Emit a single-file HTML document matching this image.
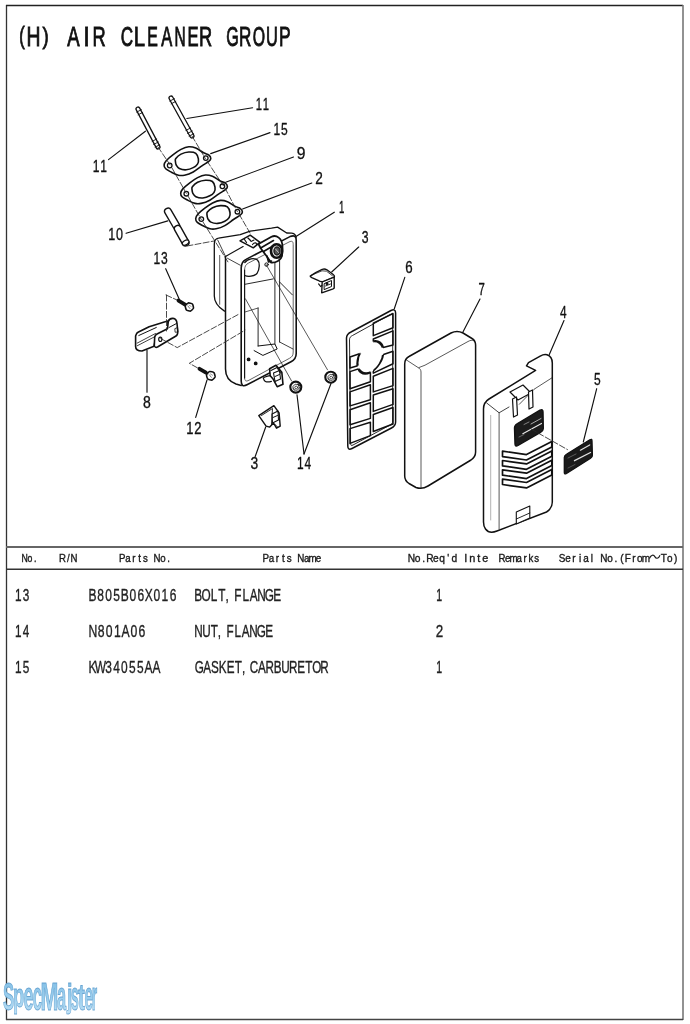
<!DOCTYPE html>
<html><head><meta charset="utf-8">
<style>
html,body{margin:0;padding:0;background:#fff;}
body{width:690px;height:1024px;overflow:hidden;position:relative;}
svg{position:absolute;left:0;top:0;will-change:transform;}
text{font-family:"Liberation Sans",sans-serif;}
</style></head>
<body>
<svg width="690" height="1024" viewBox="0 0 690 1024">
<line x1="6.5" y1="5.0" x2="6.5" y2="1020.0" stroke="#333" stroke-width="1.3" />
<line x1="6.0" y1="5.5" x2="683.0" y2="5.5" stroke="#222" stroke-width="1.3" />
<line x1="683.0" y1="5.0" x2="683.0" y2="1020.0" stroke="#777" stroke-width="1.6" />
<line x1="6.0" y1="1019.5" x2="683.0" y2="1019.5" stroke="#444" stroke-width="1.4" />
<line x1="6.0" y1="547.0" x2="683.0" y2="547.0" stroke="#666" stroke-width="1.8" />
<line x1="6.0" y1="569.2" x2="683.0" y2="569.2" stroke="#333" stroke-width="1.4" />
<text transform="translate(19.19,43.58) scale(0.16415,0.24011)" font-size="100" font-weight="normal" fill="#111" stroke="#111" stroke-width="3.711" >(</text>
<text transform="translate(26.62,46.42) scale(0.19375,0.27319)" font-size="100" font-weight="normal" fill="#111" stroke="#111" stroke-width="3.212" >H</text>
<text transform="translate(42.58,43.58) scale(0.18679,0.24011)" font-size="100" font-weight="normal" fill="#111" stroke="#111" stroke-width="3.514" >)</text>
<text transform="translate(67.28,46.42) scale(0.18571,0.27319)" font-size="100" font-weight="normal" fill="#111" stroke="#111" stroke-width="3.269" >A</text>
<text transform="translate(83.24,46.42) scale(0.23684,0.27319)" font-size="100" font-weight="normal" fill="#111" stroke="#111" stroke-width="2.941" >I</text>
<text transform="translate(92.62,46.42) scale(0.18235,0.27319)" font-size="100" font-weight="normal" fill="#111" stroke="#111" stroke-width="3.293" >R</text>
<text transform="translate(120.82,46.42) scale(0.17087,0.27319)" font-size="100" font-weight="normal" fill="#111" stroke="#111" stroke-width="3.378" >C</text>
<text transform="translate(133.75,46.42) scale(0.20337,0.27319)" font-size="100" font-weight="normal" fill="#111" stroke="#111" stroke-width="3.148" >L</text>
<text transform="translate(147.21,46.42) scale(0.15872,0.27319)" font-size="100" font-weight="normal" fill="#111" stroke="#111" stroke-width="3.473" >E</text>
<text transform="translate(161.18,46.42) scale(0.16466,0.27319)" font-size="100" font-weight="normal" fill="#111" stroke="#111" stroke-width="3.426" >A</text>
<text transform="translate(174.54,46.42) scale(0.15446,0.27319)" font-size="100" font-weight="normal" fill="#111" stroke="#111" stroke-width="3.508" >N</text>
<text transform="translate(187.45,46.42) scale(0.16606,0.27319)" font-size="100" font-weight="normal" fill="#111" stroke="#111" stroke-width="3.415" >E</text>
<text transform="translate(199.12,46.42) scale(0.18235,0.27319)" font-size="100" font-weight="normal" fill="#111" stroke="#111" stroke-width="3.293" >R</text>
<text transform="translate(226.17,46.42) scale(0.16107,0.27319)" font-size="100" font-weight="normal" fill="#111" stroke="#111" stroke-width="3.454" >G</text>
<text transform="translate(239.11,46.42) scale(0.17059,0.27319)" font-size="100" font-weight="normal" fill="#111" stroke="#111" stroke-width="3.380" >R</text>
<text transform="translate(252.76,46.42) scale(0.15839,0.27319)" font-size="100" font-weight="normal" fill="#111" stroke="#111" stroke-width="3.476" >O</text>
<text transform="translate(266.04,46.42) scale(0.16404,0.27319)" font-size="100" font-weight="normal" fill="#111" stroke="#111" stroke-width="3.431" >U</text>
<text transform="translate(278.98,46.42) scale(0.17477,0.27319)" font-size="100" font-weight="normal" fill="#111" stroke="#111" stroke-width="3.349" >P</text>
<text transform="translate(22.11,561.53) scale(0.08742,0.11232)" font-size="100" x="-6.1 62.2 136.1" y="0" font-weight="normal" fill="#1a1a1a" stroke="#1a1a1a" stroke-width="3.505" >No.</text>
<text transform="translate(59.59,561.53) scale(0.09631,0.11232)" font-size="100" x="-6.1 76.1 113.9" y="0" font-weight="normal" fill="#1a1a1a" stroke="#1a1a1a" stroke-width="3.355" >R/N</text>
<text transform="translate(119.33,561.53) scale(0.09677,0.11232)" font-size="100" x="-3.4 62.2 133.3 196.1 245.0 353.9 422.2 496.1" y="0" font-weight="normal" fill="#1a1a1a" stroke="#1a1a1a" stroke-width="3.348" >PartsNo.</text>
<text transform="translate(262.72,561.53) scale(0.09795,0.11232)" font-size="100" x="-3.4 62.2 133.3 196.1 245.0 353.9 422.2 468.3 542.2" y="0" font-weight="normal" fill="#1a1a1a" stroke="#1a1a1a" stroke-width="3.329" >PartsName</text>
<text transform="translate(408.38,561.53) scale(0.10217,0.11232)" font-size="100" x="-6.1 62.2 136.1 173.9 242.2 302.2 380.5 422.2" y="0" font-weight="normal" fill="#1a1a1a" stroke="#1a1a1a" stroke-width="3.264" >No.Req'd</text>
<text transform="translate(462.44,561.53) scale(0.10885,0.11232)" font-size="100" x="16.1 62.2 136.1 182.2" y="0" font-weight="normal" fill="#1a1a1a" stroke="#1a1a1a" stroke-width="3.165" >Inte</text>
<text transform="translate(498.99,561.53) scale(0.09680,0.11232)" font-size="100" x="-6.1 62.2 108.3 182.2 253.3 305.0 365.0" y="0" font-weight="normal" fill="#1a1a1a" stroke="#1a1a1a" stroke-width="3.347" >Remarks</text>
<text transform="translate(559.06,561.53) scale(0.09977,0.11232)" font-size="100" x="-3.4 62.2 133.3 198.9 242.2 318.9 413.9 482.2 556.1 613.3 659.5 733.3 782.2 828.3 1019.5 1082.2 1153.3" y="0" font-weight="normal" fill="#1a1a1a" stroke="#1a1a1a" stroke-width="3.300" >SerialNo.(FromTo)</text>
<path d="M649.4,558.4 C651.2,554.6 653.6,554.4 654.8,556.6 C656,558.9 658.4,559.2 660,555.2" stroke="#1a1a1a" stroke-width="1.15" fill="none" />
<text transform="translate(14.29,601.45) scale(0.11802,0.16667)" font-size="100" x="5.7 72.7" y="0" font-weight="normal" fill="#222" stroke="#222" stroke-width="2.108" >13</text>
<text transform="translate(88.47,601.45) scale(0.12016,0.16667)" font-size="100" x="0.1 72.7 139.7 206.7 268.1 340.7 407.7 469.1 541.7 608.7 675.7" y="0" font-weight="normal" fill="#222" stroke="#222" stroke-width="2.092" >B805B06X016</text>
<text transform="translate(194.29,601.45) scale(0.11801,0.16667)" font-size="100" x="0.1 61.6 139.7 204.0 264.4 338.0 407.7 469.1 533.4 597.6 670.1" y="0" font-weight="normal" fill="#222" stroke="#222" stroke-width="2.108" >BOLT,FLANGE</text>
<text transform="translate(435.56,601.45) scale(0.10575,0.16667)" font-size="100" x="5.7" y="0" font-weight="normal" fill="#222" stroke="#222" stroke-width="2.203" >1</text>
<text transform="translate(14.31,636.85) scale(0.11696,0.16667)" font-size="100" x="5.7 72.7" y="0" font-weight="normal" fill="#222" stroke="#222" stroke-width="2.115" >14</text>
<text transform="translate(88.79,636.85) scale(0.12208,0.16667)" font-size="100" x="-2.6 72.7 139.7 206.7 268.1 340.7 407.7" y="0" font-weight="normal" fill="#222" stroke="#222" stroke-width="2.078" >N801A06</text>
<text transform="translate(194.62,636.85) scale(0.11723,0.16667)" font-size="100" x="-2.6 64.4 137.0 197.4 271.0 340.7 402.1 466.4 530.6 603.1" y="0" font-weight="normal" fill="#222" stroke="#222" stroke-width="2.113" >NUT,FLANGE</text>
<text transform="translate(435.02,636.85) scale(0.13407,0.16667)" font-size="100" x="5.7" y="0" font-weight="normal" fill="#222" stroke="#222" stroke-width="1.995" >2</text>
<text transform="translate(14.29,672.85) scale(0.11802,0.16667)" font-size="100" x="5.7 72.7" y="0" font-weight="normal" fill="#222" stroke="#222" stroke-width="2.108" >15</text>
<text transform="translate(88.48,672.85) scale(0.11926,0.16667)" font-size="100" x="0.1 53.3 139.7 206.7 273.7 340.7 407.7 469.1 536.1" y="0" font-weight="normal" fill="#222" stroke="#222" stroke-width="2.098" >KW34055AA</text>
<text transform="translate(195.30,672.85) scale(0.11695,0.16667)" font-size="100" x="-5.4 67.1 134.1 201.1 268.1 338.0 398.4 466.4 536.1 600.4 670.1 734.4 801.4 871.1 941.0 999.6 1069.4" y="0" font-weight="normal" fill="#222" stroke="#222" stroke-width="2.116" >GASKET,CARBURETOR</text>
<text transform="translate(435.56,672.85) scale(0.10575,0.16667)" font-size="100" x="5.7" y="0" font-weight="normal" fill="#222" stroke="#222" stroke-width="2.203" >1</text>
<g fill="none" stroke="#111" stroke-width="1.2" stroke-linecap="round" stroke-linejoin="round">
<text transform="translate(255.44,110.25) scale(0.11280,0.16377)" font-size="100" x="3.2 65.2" y="0" font-weight="normal" fill="#111" stroke="#111" stroke-width="2.169" >11</text>
<text transform="translate(92.36,171.85) scale(0.12038,0.16377)" font-size="100" x="3.2 65.2" y="0" font-weight="normal" fill="#111" stroke="#111" stroke-width="2.112" >11</text>
<text transform="translate(273.16,134.65) scale(0.12075,0.16377)" font-size="100" x="3.2 65.2" y="0" font-weight="normal" fill="#111" stroke="#111" stroke-width="2.109" >15</text>
<text transform="translate(296.34,158.65) scale(0.15699,0.16377)" font-size="100" x="3.2" y="0" font-weight="normal" fill="#111" stroke="#111" stroke-width="1.871" >9</text>
<text transform="translate(314.73,183.65) scale(0.13626,0.16377)" font-size="100" x="3.2" y="0" font-weight="normal" fill="#111" stroke="#111" stroke-width="2.000" >2</text>
<text transform="translate(338.72,212.85) scale(0.09655,0.16377)" font-size="100" x="3.2" y="0" font-weight="normal" fill="#111" stroke="#111" stroke-width="2.305" >1</text>
<text transform="translate(107.90,240.25) scale(0.12582,0.16377)" font-size="100" x="3.2 65.2" y="0" font-weight="normal" fill="#111" stroke="#111" stroke-width="2.072" >10</text>
<text transform="translate(153.16,264.15) scale(0.12075,0.16377)" font-size="100" x="3.2 65.2" y="0" font-weight="normal" fill="#111" stroke="#111" stroke-width="2.109" >13</text>
<text transform="translate(361.47,243.35) scale(0.12211,0.16377)" font-size="100" x="3.2" y="0" font-weight="normal" fill="#111" stroke="#111" stroke-width="2.099" >3</text>
<text transform="translate(404.76,272.85) scale(0.13333,0.16377)" font-size="100" x="3.2" y="0" font-weight="normal" fill="#111" stroke="#111" stroke-width="2.020" >6</text>
<text transform="translate(478.11,294.55) scale(0.11429,0.16377)" font-size="100" x="3.2" y="0" font-weight="normal" fill="#111" stroke="#111" stroke-width="2.158" >7</text>
<text transform="translate(559.73,317.85) scale(0.11881,0.16377)" font-size="100" x="3.2" y="0" font-weight="normal" fill="#111" stroke="#111" stroke-width="2.123" >4</text>
<text transform="translate(593.69,385.05) scale(0.12000,0.16377)" font-size="100" x="3.2" y="0" font-weight="normal" fill="#111" stroke="#111" stroke-width="2.114" >5</text>
<text transform="translate(142.57,407.65) scale(0.14043,0.16377)" font-size="100" x="3.2" y="0" font-weight="normal" fill="#111" stroke="#111" stroke-width="1.972" >8</text>
<text transform="translate(185.77,433.85) scale(0.12952,0.16377)" font-size="100" x="3.2 65.2" y="0" font-weight="normal" fill="#111" stroke="#111" stroke-width="2.046" >12</text>
<text transform="translate(250.05,468.55) scale(0.13895,0.16377)" font-size="100" x="3.2" y="0" font-weight="normal" fill="#111" stroke="#111" stroke-width="1.982" >3</text>
<text transform="translate(296.67,468.55) scale(0.11963,0.16377)" font-size="100" x="3.2 65.2" y="0" font-weight="normal" fill="#111" stroke="#111" stroke-width="2.117" >14</text>
<line x1="186.8" y1="118.5" x2="252.6" y2="107.8" stroke="#111" stroke-width="1.15" />
<line x1="108.5" y1="159.6" x2="145.4" y2="131.2" stroke="#111" stroke-width="1.15" />
<line x1="210.7" y1="153.6" x2="270.0" y2="132.6" stroke="#111" stroke-width="1.15" />
<line x1="225.7" y1="182.3" x2="293.5" y2="157.0" stroke="#111" stroke-width="1.15" />
<line x1="242.6" y1="209.0" x2="311.8" y2="183.0" stroke="#111" stroke-width="1.15" />
<line x1="296.0" y1="236.5" x2="334.3" y2="212.2" stroke="#111" stroke-width="1.15" />
<line x1="126.1" y1="233.3" x2="167.8" y2="220.9" stroke="#111" stroke-width="1.15" />
<line x1="165.7" y1="268.7" x2="179.6" y2="300.0" stroke="#111" stroke-width="1.15" />
<line x1="331.7" y1="272.0" x2="358.7" y2="247.0" stroke="#111" stroke-width="1.15" />
<line x1="404.8" y1="277.4" x2="394.3" y2="308.7" stroke="#111" stroke-width="1.15" />
<line x1="462.7" y1="332.4" x2="480.0" y2="299.0" stroke="#111" stroke-width="1.15" />
<line x1="549.3" y1="354.6" x2="564.0" y2="320.5" stroke="#111" stroke-width="1.15" />
<line x1="583.3" y1="442.0" x2="596.7" y2="388.7" stroke="#111" stroke-width="1.15" />
<line x1="147.0" y1="350.4" x2="147.0" y2="392.2" stroke="#111" stroke-width="1.15" />
<line x1="207.0" y1="380.0" x2="195.7" y2="417.4" stroke="#111" stroke-width="1.15" />
<line x1="265.7" y1="427.0" x2="255.2" y2="456.5" stroke="#111" stroke-width="1.15" />
<line x1="297.0" y1="394.8" x2="304.0" y2="454.0" stroke="#111" stroke-width="1.15" />
<line x1="331.0" y1="383.5" x2="304.0" y2="454.0" stroke="#111" stroke-width="1.15" />
<line x1="138.0" y1="109.0" x2="158.0" y2="147.0" stroke="#111" stroke-width="5.2" stroke-linecap="round"/><line x1="138.0" y1="109.0" x2="158.0" y2="147.0" stroke="#fff" stroke-width="2.6" stroke-linecap="round"/>
<line x1="171.0" y1="98.0" x2="192.0" y2="136.0" stroke="#111" stroke-width="5.2" stroke-linecap="round"/><line x1="171.0" y1="98.0" x2="192.0" y2="136.0" stroke="#fff" stroke-width="2.6" stroke-linecap="round"/>
<line x1="136.7" y1="112.1" x2="141.3" y2="109.7" stroke="#111" stroke-width="0.9" />
<line x1="138.1" y1="114.8" x2="142.7" y2="112.4" stroke="#111" stroke-width="0.9" />
<line x1="152.1" y1="141.4" x2="156.7" y2="139.0" stroke="#111" stroke-width="0.9" />
<line x1="153.7" y1="144.4" x2="158.3" y2="142.0" stroke="#111" stroke-width="0.9" />
<line x1="155.1" y1="147.1" x2="159.7" y2="144.7" stroke="#111" stroke-width="0.9" />
<line x1="169.8" y1="101.1" x2="174.4" y2="98.7" stroke="#111" stroke-width="0.9" />
<line x1="171.2" y1="103.8" x2="175.8" y2="101.4" stroke="#111" stroke-width="0.9" />
<line x1="185.9" y1="130.4" x2="190.5" y2="128.0" stroke="#111" stroke-width="0.9" />
<line x1="187.6" y1="133.4" x2="192.2" y2="131.0" stroke="#111" stroke-width="0.9" />
<line x1="189.1" y1="136.1" x2="193.7" y2="133.7" stroke="#111" stroke-width="0.9" />
<g transform="translate(-16.6,-28.2)">
<path d="M180.7,193.2 C180.8,191.8 181.3,190.6 182.8,188.9 C184.3,187.2 187.3,184.7 189.8,182.8 C192.3,180.9 195.0,178.9 197.6,177.6 C200.2,176.3 202.9,175.2 205.4,175.0 C207.9,174.8 209.9,175.3 212.4,176.3 C214.9,177.3 218.0,179.8 220.2,181.0 C222.4,182.2 224.2,182.2 225.4,183.2 C226.6,184.1 227.4,185.6 227.4,186.7 C227.4,187.8 226.9,188.4 225.4,189.6 C223.9,190.8 221.1,192.3 218.5,194.1 C215.9,195.9 212.7,198.6 209.8,200.2 C206.9,201.8 203.6,202.9 201.1,203.4 C198.6,203.9 197.2,203.9 195.0,203.4 C192.8,202.9 190.1,201.5 188.0,200.4 C185.9,199.3 183.5,198.2 182.3,197.0 C181.1,195.8 180.6,194.5 180.7,193.2Z" stroke="#111" stroke-width="1.6" fill="#fff" />
<path d="M192.4,186.7 C193.3,185.5 195.4,183.4 197.6,182.3 C199.8,181.2 202.9,180.3 205.4,180.2 C207.9,180.1 210.8,180.3 212.4,181.5 C214.0,182.7 214.7,185.3 215.0,187.1 C215.3,188.9 215.0,190.9 214.1,192.3 C213.2,193.8 211.7,194.9 209.8,195.8 C207.9,196.8 205.1,197.8 202.8,198.0 C200.5,198.2 197.6,197.5 195.9,196.7 C194.2,195.9 193.5,194.4 192.8,193.2 C192.2,192.0 192.1,190.6 192.0,189.5 C191.9,188.4 191.5,187.9 192.4,186.7Z" stroke="#111" stroke-width="1.6" fill="none" />
<circle cx="186.3" cy="193.7" r="2.3" stroke="#111" stroke-width="1.3" fill="none"/>
<circle cx="222.4" cy="186.3" r="2.3" stroke="#111" stroke-width="1.3" fill="none"/>
</g>
<g transform="translate(0,0)">
<path d="M180.7,193.2 C180.8,191.8 181.3,190.6 182.8,188.9 C184.3,187.2 187.3,184.7 189.8,182.8 C192.3,180.9 195.0,178.9 197.6,177.6 C200.2,176.3 202.9,175.2 205.4,175.0 C207.9,174.8 209.9,175.3 212.4,176.3 C214.9,177.3 218.0,179.8 220.2,181.0 C222.4,182.2 224.2,182.2 225.4,183.2 C226.6,184.1 227.4,185.6 227.4,186.7 C227.4,187.8 226.9,188.4 225.4,189.6 C223.9,190.8 221.1,192.3 218.5,194.1 C215.9,195.9 212.7,198.6 209.8,200.2 C206.9,201.8 203.6,202.9 201.1,203.4 C198.6,203.9 197.2,203.9 195.0,203.4 C192.8,202.9 190.1,201.5 188.0,200.4 C185.9,199.3 183.5,198.2 182.3,197.0 C181.1,195.8 180.6,194.5 180.7,193.2Z" stroke="#111" stroke-width="1.6" fill="#fff" />
<path d="M192.4,186.7 C193.3,185.5 195.4,183.4 197.6,182.3 C199.8,181.2 202.9,180.3 205.4,180.2 C207.9,180.1 210.8,180.3 212.4,181.5 C214.0,182.7 214.7,185.3 215.0,187.1 C215.3,188.9 215.0,190.9 214.1,192.3 C213.2,193.8 211.7,194.9 209.8,195.8 C207.9,196.8 205.1,197.8 202.8,198.0 C200.5,198.2 197.6,197.5 195.9,196.7 C194.2,195.9 193.5,194.4 192.8,193.2 C192.2,192.0 192.1,190.6 192.0,189.5 C191.9,188.4 191.5,187.9 192.4,186.7Z" stroke="#111" stroke-width="1.6" fill="none" />
<circle cx="186.3" cy="193.7" r="2.3" stroke="#111" stroke-width="1.3" fill="none"/>
<circle cx="222.4" cy="186.3" r="2.3" stroke="#111" stroke-width="1.3" fill="none"/>
</g>
<g transform="translate(15,25.4)">
<path d="M180.7,193.2 C180.8,191.8 181.3,190.6 182.8,188.9 C184.3,187.2 187.3,184.7 189.8,182.8 C192.3,180.9 195.0,178.9 197.6,177.6 C200.2,176.3 202.9,175.2 205.4,175.0 C207.9,174.8 209.9,175.3 212.4,176.3 C214.9,177.3 218.0,179.8 220.2,181.0 C222.4,182.2 224.2,182.2 225.4,183.2 C226.6,184.1 227.4,185.6 227.4,186.7 C227.4,187.8 226.9,188.4 225.4,189.6 C223.9,190.8 221.1,192.3 218.5,194.1 C215.9,195.9 212.7,198.6 209.8,200.2 C206.9,201.8 203.6,202.9 201.1,203.4 C198.6,203.9 197.2,203.9 195.0,203.4 C192.8,202.9 190.1,201.5 188.0,200.4 C185.9,199.3 183.5,198.2 182.3,197.0 C181.1,195.8 180.6,194.5 180.7,193.2Z" stroke="#111" stroke-width="1.6" fill="#fff" />
<path d="M192.4,186.7 C193.3,185.5 195.4,183.4 197.6,182.3 C199.8,181.2 202.9,180.3 205.4,180.2 C207.9,180.1 210.8,180.3 212.4,181.5 C214.0,182.7 214.7,185.3 215.0,187.1 C215.3,188.9 215.0,190.9 214.1,192.3 C213.2,193.8 211.7,194.9 209.8,195.8 C207.9,196.8 205.1,197.8 202.8,198.0 C200.5,198.2 197.6,197.5 195.9,196.7 C194.2,195.9 193.5,194.4 192.8,193.2 C192.2,192.0 192.1,190.6 192.0,189.5 C191.9,188.4 191.5,187.9 192.4,186.7Z" stroke="#111" stroke-width="1.6" fill="none" />
<circle cx="186.3" cy="193.7" r="2.3" stroke="#111" stroke-width="1.3" fill="none"/>
<circle cx="222.4" cy="186.3" r="2.3" stroke="#111" stroke-width="1.3" fill="none"/>
</g>
<polyline points="158.0,147.0 170.1,164.9" stroke="#2a2a2a" stroke-width="0.85" fill="none" stroke-dasharray="6,2.2"/>
<polyline points="172.0,168.0 186.3,193.3" stroke="#2a2a2a" stroke-width="0.85" fill="none" stroke-dasharray="6,2.2"/>
<polyline points="188.0,196.0 201.3,219.6" stroke="#2a2a2a" stroke-width="0.85" fill="none" stroke-dasharray="6,2.2"/>
<polyline points="203.0,222.0 228.0,262.0" stroke="#2a2a2a" stroke-width="0.85" fill="none" stroke-dasharray="6,2.2"/>
<polyline points="192.0,136.0 205.4,158.6" stroke="#2a2a2a" stroke-width="0.85" fill="none" stroke-dasharray="6,2.2"/>
<polyline points="207.0,161.0 223.4,185.8" stroke="#2a2a2a" stroke-width="0.85" fill="none" stroke-dasharray="6,2.2"/>
<polyline points="225.0,188.0 237.4,211.7" stroke="#2a2a2a" stroke-width="0.85" fill="none" stroke-dasharray="6,2.2"/>
<polyline points="239.0,214.0 250.0,233.0" stroke="#2a2a2a" stroke-width="0.85" fill="none" stroke-dasharray="6,2.2"/>
<line x1="168.0" y1="211.5" x2="176.3" y2="225.8" stroke="#111" stroke-width="8.2" stroke-linecap="round"/><line x1="168.0" y1="211.5" x2="176.3" y2="225.8" stroke="#fff" stroke-width="5.4" stroke-linecap="round"/>
<line x1="177.8" y1="228.8" x2="185.5" y2="242.5" stroke="#111" stroke-width="8.2" stroke-linecap="round"/><line x1="177.8" y1="228.8" x2="185.5" y2="242.5" stroke="#fff" stroke-width="5.4" stroke-linecap="round"/>
<ellipse cx="0" cy="0" rx="3.6" ry="2.2" transform="translate(185.6,242.6) rotate(-30)" stroke="#111" stroke-width="1.2" fill="#fff"/>
<polyline points="187.0,246.0 214.0,241.0" stroke="#2a2a2a" stroke-width="0.85" fill="none" stroke-dasharray="6,2.2"/>
<path d="M224.5,311.1 C218,307 214.3,303 214.3,296 L214.3,244 C214.3,240 215.5,238.6 218.5,238.2 L240.2,234.6 L250.2,231.1 L271.5,228.1 L277.6,227.1 L286.7,233 L291.8,233.2 C294.5,233.6 296,235 296,238" stroke="#111" stroke-width="1.3" fill="none" />
<line x1="219.7" y1="255.4" x2="219.7" y2="304.3" stroke="#111" stroke-width="0.7" />
<polyline points="217.7,240.0 225.5,256.4" stroke="#111" stroke-width="0.8" fill="none" />
<path d="M225.5,256.4 L225.5,369 C225.5,377 229,381.5 236,384 L241.2,385.5" stroke="#111" stroke-width="1.5" fill="none" />
<polyline points="225.5,256.4 243.1,246.6" stroke="#111" stroke-width="1.2" fill="none" />
<polyline points="227.5,258.3 240.2,265.2" stroke="#111" stroke-width="0.8" fill="none" />
<path d="M241.2,268 C241.2,263.5 242.5,261 246,259.4 L290,236.6 C294,235 296.2,236 296.2,240 L296.2,353.5 C296.2,358 294.5,360 291,361.8 L247,384.8 C243,386.8 241.2,385.5 241.2,381 Z" stroke="#111" stroke-width="1.6" fill="#fff" />
<path d="M244.6,270 C244.6,266.5 245.6,264.6 248.5,263 L289,242 C292,240.6 293.2,241.2 293.2,244.5 L293.2,352 C293.2,355.5 292,357 289.5,358.3 L249,380.2 C246,381.8 244.6,381 244.6,378 Z" stroke="#555" stroke-width="0.9" fill="none" />
<line x1="244.6" y1="270.0" x2="244.6" y2="378.0" stroke="#111" stroke-width="1.1" />
<path d="M244.8,262.5 C248,258.5 254,257.5 257.5,260 C260,262.5 259.8,269 257,273.5 C254,276.5 248,277 244.8,275.5" stroke="#111" stroke-width="1.3" fill="none" />
<polyline points="245.0,284.3 273.3,278.9" stroke="#111" stroke-width="0.9" fill="none" />
<line x1="274.9" y1="258.0" x2="274.9" y2="344.0" stroke="#111" stroke-width="0.9" />
<line x1="279.6" y1="255.0" x2="279.6" y2="342.0" stroke="#111" stroke-width="0.9" />
<polyline points="279.6,282.0 292.4,294.9" stroke="#111" stroke-width="0.9" fill="none" />
<line x1="258.1" y1="308.0" x2="258.1" y2="346.0" stroke="#111" stroke-width="0.9" />
<polyline points="245.0,312.0 258.1,308.0" stroke="#111" stroke-width="0.7" fill="none" />
<polyline points="254.1,350.6 262.9,355.4 277.2,349.0 274.9,344.0 258.1,346.0" stroke="#111" stroke-width="1.0" fill="none" />
<polyline points="279.6,342.0 293.0,349.0" stroke="#111" stroke-width="0.8" fill="none" />
<circle cx="248.6" cy="359.4" r="1.3" fill="#111"/>
<circle cx="255.7" cy="363.4" r="1.3" fill="#111"/>
<path d="M269.6,368.7 L276,365.2 L281.8,372.2 L283,384.3 L277.2,386.7 L273.1,379.1 L270.2,375.7 Z" stroke="#111" stroke-width="1.6" fill="#fff" />
<polyline points="271.0,370.5 277.0,367.5 280.5,373.0" stroke="#111" stroke-width="1.1" fill="none" />
<polygon points="273.5,373.0 279.5,370.5 280.5,379.0 275.0,381.5" stroke="#111" stroke-width="1.1" fill="none" />
<polyline points="275.0,376.5 279.5,374.5" stroke="#111" stroke-width="1.0" fill="none" />
<path d="M270.2,375.7 C266,376 263,378 263.3,378.2 C264,381 265.5,383 271.4,381.4" stroke="#111" stroke-width="1.2" fill="none" />
<line x1="266.1" y1="264.6" x2="327.5" y2="369.8" stroke="#111" stroke-width="0.7" />
<line x1="245.4" y1="298.8" x2="291.6" y2="381.0" stroke="#111" stroke-width="0.7" />
<polygon points="240.0,240.8 250.2,235.2 260.0,242.3 253.3,247.8" stroke="#111" stroke-width="1.5" fill="#fff" />
<polyline points="244.5,239.5 246.5,242.5" stroke="#111" stroke-width="1.2" fill="none" />
<polyline points="248.0,238.0 250.5,240.5" stroke="#111" stroke-width="1.2" fill="none" />
<polyline points="251.0,241.5 254.0,240.0" stroke="#111" stroke-width="1.1" fill="none" />
<path d="M252.5,244.5 C254.5,242 257,242.5 256.5,245" stroke="#111" stroke-width="1.2" fill="none" />
<path d="M258.5,244 L271.5,236.8 C276,234.5 282.5,238 282.5,247 L282,256 C281,260 276,263 271,262.5 L266.5,256 L260.5,248 Z" stroke="#111" stroke-width="1.8" fill="#fff" />
<polyline points="261.5,247.5 273.5,240.5" stroke="#111" stroke-width="1.6" fill="none" />
<polyline points="263.5,251.5 275.5,244.5" stroke="#111" stroke-width="1.6" fill="none" />
<ellipse cx="276.6" cy="251" rx="5.6" ry="6.8" stroke="#111" stroke-width="2.6" fill="#fff"/>
<ellipse cx="277" cy="251" rx="3" ry="4" stroke="#222" stroke-width="1.5" fill="#555"/>
<polyline points="275.5,249.0 278.5,252.5" stroke="#ddd" stroke-width="0.8" fill="none" />
<path d="M267,256 L268.5,262 L271.5,261" stroke="#111" stroke-width="1.6" fill="none" />
<circle cx="266.5" cy="264.6" r="1.7" stroke="#111" stroke-width="1.0" fill="none"/>
<path d="M136.4,334 C136.8,333 137.5,332.5 138.5,332 L149.1,326.7 L164.3,322 L168,321 L168,329 L156,336 L154,346.3 L142,351 C138.5,351 135.6,349.5 135.6,346.5 L135.6,336 Z" stroke="#111" stroke-width="1.6" fill="#fff" />
<polyline points="138.8,335.5 156.3,327.5" stroke="#111" stroke-width="1.0" fill="none" />
<polyline points="137.2,343.1 155.5,333.5" stroke="#111" stroke-width="0.8" fill="none" />
<polyline points="137.2,345.8 155.5,336.3" stroke="#111" stroke-width="0.8" fill="none" />
<path d="M154.7,337 C155,335.5 155.8,334.6 157,334 L167.5,328.7 L168.3,321.5 C168.8,319.5 170.5,318.3 173,318.4 C175.5,318.6 176.8,320.5 177,323.5 L177.8,331.5 C177.8,334 177.3,335.3 176,336 L166.7,341.5 L157.5,347 C155.8,347.8 154.5,347 154.3,345.5 Z" stroke="#111" stroke-width="1.6" fill="#fff" />
<polyline points="169.0,327.5 176.5,323.5" stroke="#111" stroke-width="1.0" fill="none" />
<polygon points="175.2,328.5 177.6,327.5 177.8,332.0 175.5,332.2" stroke="#111" stroke-width="0.8" fill="none" />
<ellipse cx="160.3" cy="339.3" rx="1.6" ry="2.2" stroke="#111" stroke-width="1.2" fill="none"/>
<polyline points="166.5,295.0 166.5,331.0" stroke="#2a2a2a" stroke-width="0.85" fill="none" stroke-dasharray="6,2.2"/>
<polyline points="166.0,295.0 177.0,300.0" stroke="#2a2a2a" stroke-width="0.85" fill="none" stroke-dasharray="6,2.2"/>
<polyline points="160.7,338.5 177.2,347.6 238.0,314.6" stroke="#2a2a2a" stroke-width="0.85" fill="none" stroke-dasharray="6,2.2"/>
<polyline points="197.4,367.8 189.3,363.3 245.0,330.2" stroke="#2a2a2a" stroke-width="0.85" fill="none" stroke-dasharray="6,2.2"/>
<line x1="178.5" y1="300.6" x2="185.5" y2="304.8" stroke="#111" stroke-width="3.8" stroke-linecap="round"/><circle cx="180.2" cy="301.7" r="0.6" fill="#888"/><circle cx="182.3" cy="302.9" r="0.6" fill="#888"/><circle cx="184.4" cy="304.2" r="0.6" fill="#888"/><path d="M193.5,308.1 C193.3,308.8 191.2,310.9 190.5,311.1 C189.8,311.2 186.9,310.5 186.4,310.0 C185.9,309.5 185.2,306.6 185.3,305.9 C185.5,305.2 187.6,303.1 188.3,302.9 C189.0,302.8 191.9,303.5 192.4,304.0 C192.9,304.5 193.6,307.4 193.5,308.1Z" stroke="#111" stroke-width="1.6" fill="#fff" /><polyline points="187.9,306.0 189.9,308.5" stroke="#555" stroke-width="0.8" fill="none" /><polyline points="188.9,305.0 191.2,306.5" stroke="#777" stroke-width="0.7" fill="none" />
<line x1="199.5" y1="368.8" x2="206.0" y2="372.6" stroke="#111" stroke-width="3.8" stroke-linecap="round"/><circle cx="201.1" cy="369.8" r="0.6" fill="#888"/><circle cx="203.1" cy="370.9" r="0.6" fill="#888"/><circle cx="205.0" cy="372.0" r="0.6" fill="#888"/><path d="M215.1,376.9 C214.9,377.7 212.7,379.9 211.9,380.1 C211.2,380.2 208.2,379.5 207.7,378.9 C207.1,378.4 206.4,375.4 206.5,374.7 C206.7,373.9 208.9,371.7 209.7,371.5 C210.4,371.4 213.4,372.1 213.9,372.7 C214.5,373.2 215.2,376.2 215.1,376.9Z" stroke="#111" stroke-width="1.6" fill="#fff" /><polyline points="209.3,374.8 211.3,377.3" stroke="#555" stroke-width="0.8" fill="none" /><polyline points="210.3,373.8 212.6,375.3" stroke="#777" stroke-width="0.7" fill="none" />
<circle cx="295.8" cy="387.1" r="5.5" stroke="#111" stroke-width="2.1" fill="#fff"/>
<path d="M299.3,387.9 C299.2,388.2 297.5,390.2 297.2,390.3 C296.8,390.4 294.3,390.0 294.0,389.8 C293.8,389.5 292.9,387.1 292.9,386.7 C293.0,386.4 294.7,384.4 295.0,384.3 C295.4,384.2 297.9,384.6 298.2,384.8 C298.4,385.1 299.3,387.5 299.3,387.9Z" stroke="#333" stroke-width="1.0" fill="none" />
<circle cx="296.2" cy="387.5" r="1.4" stroke="#333" stroke-width="0.9" fill="none"/>
<polyline points="297.8,384.1 299.4,385.7" stroke="#111" stroke-width="1.2" fill="none" />
<polyline points="292.8,388.1 294.3,390.1" stroke="#444" stroke-width="0.9" fill="none" />
<circle cx="330.8" cy="377.2" r="5.5" stroke="#111" stroke-width="2.1" fill="#fff"/>
<path d="M334.3,378.0 C334.2,378.3 332.5,380.3 332.2,380.4 C331.8,380.5 329.3,380.1 329.0,379.9 C328.8,379.6 327.9,377.2 327.9,376.8 C328.0,376.5 329.7,374.5 330.0,374.4 C330.4,374.3 332.9,374.7 333.2,374.9 C333.4,375.2 334.3,377.6 334.3,378.0Z" stroke="#333" stroke-width="1.0" fill="none" />
<circle cx="331.2" cy="377.59999999999997" r="1.4" stroke="#333" stroke-width="0.9" fill="none"/>
<polyline points="332.8,374.2 334.4,375.8" stroke="#111" stroke-width="1.2" fill="none" />
<polyline points="327.8,378.2 329.3,380.2" stroke="#444" stroke-width="0.9" fill="none" />
<path d="M310.2,276.1 C314,273.5 318,271 322.2,269.3 C324,268.8 325.5,269 326.9,269.8 L333.2,274.5 C334.5,275.5 334.6,276.6 334.2,277.1 L324.3,281.3 C322,282 320,281.8 318,280.3 L311.8,277.6 C310.6,277 310,276.6 310.2,276.1 Z" stroke="#111" stroke-width="1.4" fill="#fff" />
<polyline points="311.5,275.2 322.0,270.8 326.5,271.2 332.5,275.8" stroke="#111" stroke-width="0.8" fill="none" />
<polygon points="322.2,281.8 334.2,277.1 334.2,288.1 333.2,288.8 321.7,292.8" stroke="#111" stroke-width="1.4" fill="#fff" />
<polyline points="318.6,283.9 320.6,286.5 321.9,285.5" stroke="#111" stroke-width="1.2" fill="none" />
<polygon points="324.5,283.5 331.5,280.5 331.5,286.5 324.5,289.5" stroke="#111" stroke-width="1.0" fill="none" />
<polyline points="325.5,286.0 330.5,284.0" stroke="#111" stroke-width="0.9" fill="none" />
<circle cx="327" cy="283.5" r="0.9" fill="#111"/>
<path d="M258.8,415.6 L273.9,405.7 L279.1,413 L280.2,426.1 L276.5,428.2 L273.5,423 L269.7,427.1 L266.1,426.1 Z" stroke="#111" stroke-width="1.4" fill="#fff" />
<polyline points="261.5,415.5 272.5,408.5 271.5,424.5" stroke="#111" stroke-width="0.9" fill="none" />
<polygon points="272.0,414.0 278.0,411.0 278.5,420.0 272.5,423.0" stroke="#111" stroke-width="1.1" fill="none" />
<polyline points="273.0,417.5 277.5,415.5" stroke="#111" stroke-width="1.0" fill="none" />
<polyline points="274.5,424.0 277.5,427.0" stroke="#111" stroke-width="1.0" fill="none" />
<path d="M346.5,338 C346.5,335 348,333.5 351,332 L391,310.5 C394,309 395.6,310 395.6,313 L395.6,422 C395.6,425 394.5,426.5 391.5,428 L352,448.5 C349,450 347.8,449 347.8,446 Z" stroke="#111" stroke-width="1.5" fill="#fff" />
<path d="M349.5,339.5 C349.5,337.5 350.5,336.5 352.5,335.5 L390.5,314.5 C392,313.7 392.7,314.3 392.7,316 L392.7,421 C392.7,423 392,424 390.5,424.8 L353,445 C351.2,446 350.6,445.5 350.6,443.5 Z" stroke="#111" stroke-width="0.9" fill="none" />
<polygon points="373.3,323.1 393.0,313.5 393.0,327.8 373.3,335.6" stroke="#111" stroke-width="1.5" fill="none" />
<polygon points="373.3,339.0 393.0,330.9 393.0,345.0 373.3,350.0" stroke="#111" stroke-width="1.5" fill="none" />
<polygon points="373.3,358.0 393.0,351.2 393.0,363.8 373.3,373.1" stroke="#111" stroke-width="1.5" fill="none" />
<polygon points="373.3,376.3 393.0,368.4 393.0,385.6 373.3,391.9" stroke="#111" stroke-width="1.5" fill="none" />
<polygon points="373.3,395.0 393.0,388.8 393.0,404.4 373.3,411.4" stroke="#111" stroke-width="1.5" fill="none" />
<polygon points="373.3,414.5 393.0,407.5 393.0,424.0 373.3,431.5" stroke="#111" stroke-width="1.5" fill="none" />
<polygon points="350.0,357.0 370.4,350.0 370.4,362.0 350.0,368.0" stroke="#111" stroke-width="1.5" fill="none" />
<polygon points="350.0,371.6 370.4,365.0 370.4,381.7 350.0,388.8" stroke="#111" stroke-width="1.5" fill="none" />
<polygon points="350.0,391.9 370.4,384.8 370.4,399.7 350.0,405.9" stroke="#111" stroke-width="1.5" fill="none" />
<polygon points="350.0,409.8 370.4,402.8 370.4,418.4 350.0,424.7" stroke="#111" stroke-width="1.5" fill="none" />
<polygon points="350.0,428.6 370.4,422.3 370.4,435.6 350.0,443.4" stroke="#111" stroke-width="1.5" fill="none" />
<defs><clipPath id="bars"><path d="M373.3,323.1 L393.0,313.5 L393.0,327.8 L373.3,335.6 Z M373.3,339 L393.0,330.9 L393.0,345 L373.3,350 Z M373.3,358 L393.0,351.2 L393.0,363.8 L373.3,373.1 Z M373.3,376.3 L393.0,368.4 L393.0,385.6 L373.3,391.9 Z M373.3,395 L393.0,388.8 L393.0,404.4 L373.3,411.4 Z M373.3,414.5 L393.0,407.5 L393.0,424 L373.3,431.5 Z M350.0,357 L370.4,350 L370.4,362 L350.0,368 Z M350.0,371.6 L370.4,365 L370.4,381.7 L350.0,388.8 Z M350.0,391.9 L370.4,384.8 L370.4,399.7 L350.0,405.9 Z M350.0,409.8 L370.4,402.8 L370.4,418.4 L350.0,424.7 Z M350.0,428.6 L370.4,422.3 L370.4,435.6 L350.0,443.4 Z" clip-rule="nonzero"/></clipPath></defs>
<ellipse cx="0" cy="0" rx="13" ry="15" transform="matrix(1,-0.45,0,1,370.4,357.3)" stroke="none" fill="#fff"/>
<g clip-path="url(#bars)"><ellipse cx="0" cy="0" rx="13" ry="15" transform="matrix(1,-0.45,0,1,370.4,357.3)" stroke="#111" stroke-width="2.2" fill="none"/></g>
<path d="M404.7,364 C404.7,360 406,358 409,356.5 L451,333 C455,331 459,331 463,333 L472,338.5 C474.5,340 475.6,342 475.6,345 L475.6,452 C475.6,456 474,458 471,460 L428,486 C424,488.5 420,489 416,487.5 L409,483.5 C406,481.5 404.7,479.5 404.7,476 Z" stroke="#111" stroke-width="1.5" fill="#fff" />
<path d="M406.5,360 L418,367.5 C420,368.5 421,370 421,372 L421,488" stroke="#111" stroke-width="0.7" fill="none" />
<path d="M419,367.5 C421,366.5 423,366.2 425,365.2 L468,341.5 C470,340.5 472,339.5 474.5,341" stroke="#111" stroke-width="0.7" fill="none" />
<path d="M483.5,409 C483.5,404 485,401.5 489,399 L535.6,370.4 L526.5,365.9 L528.5,362.6 L540.2,356.1 C543,354.5 545,354.2 547,354.8 C550.5,356 552.3,359 552.3,363 L552.3,502 C552.3,507 550.5,509.5 546.5,512 L497,531 C492,533 488,532.5 485.5,529 C484,527 483.5,525 483.5,522 Z" stroke="#111" stroke-width="1.5" fill="#fff" />
<polyline points="486.7,403.0 499.1,412.8 509.0,407.0" stroke="#111" stroke-width="0.8" fill="none" />
<line x1="499.1" y1="412.8" x2="499.1" y2="529.0" stroke="#111" stroke-width="0.7" />
<line x1="490.7" y1="415.4" x2="490.7" y2="520.0" stroke="#666" stroke-width="0.5" />
<polyline points="519.3,404.3 534.0,389.3 552.0,377.8" stroke="#111" stroke-width="0.7" fill="none" />
<polygon points="510.0,392.0 523.0,385.0 531.0,393.0 518.0,400.0" stroke="#111" stroke-width="1.2" fill="#fff" />
<polygon points="512.5,399.0 516.5,397.0 517.5,415.0 513.5,417.0" stroke="#111" stroke-width="1.2" fill="#fff" />
<polygon points="528.5,392.0 532.5,390.0 533.0,407.0 529.0,409.0" stroke="#111" stroke-width="1.2" fill="#fff" />
<path d="M514.5,428 C514.5,425.5 515.5,424.6 517.5,423.5 L540,410.2 C542,409.2 543,409.6 543,411.8 L543.3,428.5 C543.3,430.5 542.5,431.2 540.5,432.3 L518,445.5 C516,446.6 515,446 515,444 Z" stroke="#111" stroke-width="1.4" fill="#1c1c1c" />
<polyline points="522.8,433.7 541.5,423.4" stroke="#e8e8e8" stroke-width="1.1" fill="none" />
<polyline points="531.0,424.0 541.0,418.5" stroke="#bbb" stroke-width="0.9" fill="none" />
<polyline points="524.0,424.5 529.0,422.0" stroke="#999" stroke-width="0.8" fill="none" />
<polyline points="519.0,437.0 524.0,434.5" stroke="#888" stroke-width="0.7" fill="none" />
<polygon points="502.5,451.2 526.5,454.6 551.8,441.6 551.8,447.0 526.5,460.0 502.5,456.6" stroke="#111" stroke-width="1.7" fill="#fff" />
<polygon points="502.5,460.5 526.5,463.9 551.8,450.9 551.8,456.3 526.5,469.3 502.5,465.9" stroke="#111" stroke-width="1.7" fill="#fff" />
<polygon points="502.5,469.8 526.5,473.2 551.8,460.2 551.8,465.6 526.5,478.6 502.5,475.2" stroke="#111" stroke-width="1.7" fill="#fff" />
<polygon points="502.5,479.1 526.5,482.5 551.8,469.5 551.8,474.9 526.5,487.9 502.5,484.5" stroke="#111" stroke-width="1.7" fill="#fff" />
<polygon points="516.3,512.0 529.8,506.0 529.8,518.0 516.3,524.0" stroke="#111" stroke-width="1.1" fill="#fff" />
<polyline points="516.3,519.0 529.8,513.0" stroke="#111" stroke-width="0.9" fill="none" />
<polyline points="531.0,429.0 567.5,449.6" stroke="#2a2a2a" stroke-width="0.85" fill="none" stroke-dasharray="6,2.2"/>
<path d="M564.3,457.5 C564.3,455.8 565,455 566.5,454.2 L589.8,439.8 C591.5,438.8 592,439.2 592,441 L592.4,455.2 C592.4,456.8 592,457.4 590.6,458.2 L566.5,473.5 C565,474.4 564.3,474 564.3,472.5 Z" stroke="#111" stroke-width="1.3" fill="#1a1a1a" />
<polyline points="580.4,450.2 589.7,444.9" stroke="#e0e0e0" stroke-width="1.2" fill="none" />
<polyline points="574.5,460.7 590.5,452.5" stroke="#e0e0e0" stroke-width="1.3" fill="none" />
<polyline points="568.0,458.0 576.0,454.0" stroke="#777" stroke-width="0.7" fill="none" />
<polyline points="568.0,468.0 575.0,464.5" stroke="#666" stroke-width="0.7" fill="none" />
</g>
<defs><linearGradient id="wm" x1="0" y1="0" x2="0" y2="1"><stop offset="0" stop-color="#7dbbe3"/><stop offset="0.55" stop-color="#9ccfee"/><stop offset="1" stop-color="#c2e3f7"/></linearGradient></defs>
<text transform="translate(3.00,1009.90) scale(0.16833,0.38696)" font-size="100" font-weight="bold" fill="url(#wm)"  stroke="#5b9bcc" stroke-width="2.4" stroke-opacity="0.85">S</text>
<text transform="translate(13.00,1006.83) scale(0.18416,0.34133)" font-size="100" font-weight="bold" fill="url(#wm)"  stroke="#5b9bcc" stroke-width="2.4" stroke-opacity="0.85">p</text>
<text transform="translate(23.38,1009.90) scale(0.17917,0.40566)" font-size="100" font-weight="bold" fill="url(#wm)"  stroke="#5b9bcc" stroke-width="2.4" stroke-opacity="0.85">e</text>
<text transform="translate(32.64,1009.90) scale(0.16495,0.40566)" font-size="100" font-weight="bold" fill="url(#wm)"  stroke="#5b9bcc" stroke-width="2.4" stroke-opacity="0.85">c</text>
<text transform="translate(40.51,1009.90) scale(0.21429,0.38696)" font-size="100" font-weight="bold" fill="url(#wm)"  stroke="#5b9bcc" stroke-width="2.4" stroke-opacity="0.85">M</text>
<text transform="translate(56.91,1009.90) scale(0.16449,0.40566)" font-size="100" font-weight="bold" fill="url(#wm)"  stroke="#5b9bcc" stroke-width="2.4" stroke-opacity="0.85">a</text>
<text transform="translate(66.89,1007.15) scale(0.19556,0.32620)" font-size="100" font-weight="bold" fill="url(#wm)"  stroke="#5b9bcc" stroke-width="2.4" stroke-opacity="0.85">j</text>
<text transform="translate(70.91,1009.90) scale(0.13958,0.40566)" font-size="100" font-weight="bold" fill="url(#wm)"  stroke="#5b9bcc" stroke-width="2.4" stroke-opacity="0.85">s</text>
<text transform="translate(78.09,1009.90) scale(0.20645,0.36087)" font-size="100" font-weight="bold" fill="url(#wm)"  stroke="#5b9bcc" stroke-width="2.4" stroke-opacity="0.85">t</text>
<text transform="translate(84.38,1009.90) scale(0.15417,0.40566)" font-size="100" font-weight="bold" fill="url(#wm)"  stroke="#5b9bcc" stroke-width="2.4" stroke-opacity="0.85">e</text>
<text transform="translate(91.80,1009.90) scale(0.13871,0.40566)" font-size="100" font-weight="bold" fill="url(#wm)"  stroke="#5b9bcc" stroke-width="2.4" stroke-opacity="0.85">r</text>
</svg>
</body></html>
